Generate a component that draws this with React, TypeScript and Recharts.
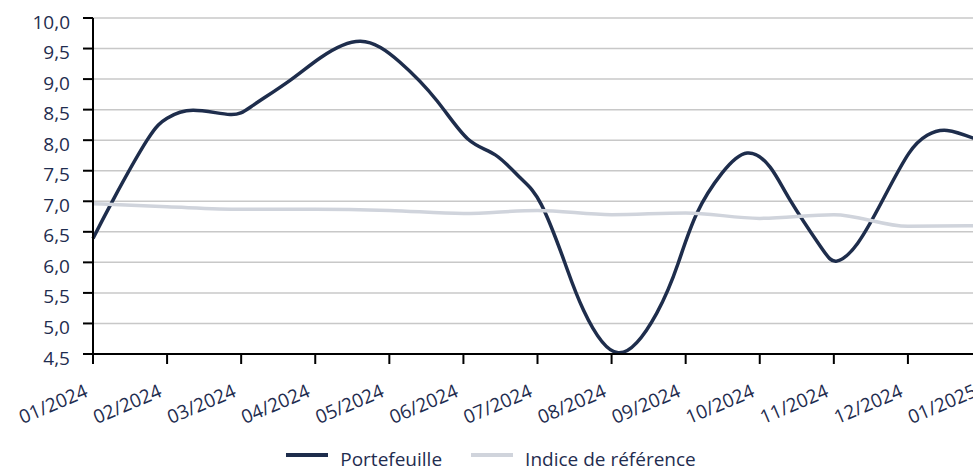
import React from 'react';
import { LineChart, Line, XAxis, YAxis, CartesianGrid, Legend } from 'recharts';

// x positions are expressed in months since 01/2024
const tickLabels = [
  '01/2024', '02/2024', '03/2024', '04/2024', '05/2024', '06/2024', '07/2024',
  '08/2024', '09/2024', '10/2024', '11/2024', '12/2024', '01/2025',
];
const yTicks = [4.5, 5, 5.5, 6, 6.5, 7, 7.5, 8, 8.5, 9, 9.5, 10];

const portfolioMonths = [
  0, 0.27, 0.73, 1.0, 1.35, 1.85, 2.16, 2.66, 3.07, 3.61, 4.14, 4.64, 5.06,
  5.43, 5.77, 6.05, 6.37, 6.62, 7.09, 7.61, 7.9, 8.15, 8.49, 8.83, 9.14,
  9.41, 9.82, 10.04, 10.32, 10.66, 11.01, 11.26, 11.53, 11.89, 12,
];
const portfolioValues = [
  6.39, 7.02, 8.0, 8.36, 8.49, 8.42, 8.57, 8.98, 9.35, 9.62, 9.28, 8.65, 8.02,
  7.76, 7.38, 6.95, 5.99, 5.22, 4.52, 5.17, 5.99, 6.8, 7.46, 7.79, 7.56,
  7.02, 6.26, 6.02, 6.31, 7.02, 7.78, 8.08, 8.16, 8.03, 7.98,
];
const indexValues = [6.96, 6.91, 6.87, 6.87, 6.85, 6.8, 6.85, 6.78, 6.81, 6.72, 6.78, 6.59, 6.6];

const portfolioData = portfolioMonths.map((m, i) => ({ m, v: portfolioValues[i] }));
const indexData = indexValues.map((v, i) => ({ m: i, v }));

const NAVY = '#1e2d4c';
const GREY = '#d0d4dc';
const TEXT = '#1f2d4f';
const FONT = '"Open Sans", sans-serif';

const YTick = ({ x, y, payload }: any) => (
  <text x={x} y={y + 10.5} textAnchor="end" fill={TEXT} fontSize={19} fontFamily={FONT}>
    {payload.value.toFixed(1).replace('.', ',')}
  </text>
);

const XTick = ({ x, y, payload }: any) => {
  const tx = x - 4;
  const ty = y + 32;
  return (
    <text
      x={tx}
      y={ty}
      textAnchor="end"
      fill={TEXT}
      fontSize={19}
      fontFamily={FONT}
      transform={`rotate(-23, ${tx}, ${ty})`}
    >
      {tickLabels[payload.value]}
    </text>
  );
};

const LegendContent = () => (
  <div
    style={{
      display: 'flex',
      justifyContent: 'center',
      fontFamily: FONT,
      fontSize: 19,
      color: TEXT,
    }}
  >
    {[
      { name: 'Portefeuille', color: NAVY },
      { name: 'Indice de référence', color: GREY },
    ].map((item, i) => (
      <div key={item.name} style={{ display: 'flex', alignItems: 'flex-start', marginLeft: i ? 29 : 0 }}>
        <span style={{ width: 42, height: 4, background: item.color, marginTop: 7, marginRight: 12 }} />
        <span>{item.name}</span>
      </div>
    ))}
  </div>
);

export default function App() {
  return (
    <div style={{ width: 973, height: 472, overflow: 'hidden', position: 'relative' }}>
      <style>{'body{margin:0}'}</style>
      <LineChart width={1000} height={472} margin={{ top: 18, right: 18, left: 0, bottom: 0 }}>
        <CartesianGrid vertical={false} stroke="#c8c8c8" strokeWidth={1.5} />
        <XAxis
          dataKey="m"
          type="number"
          domain={[0, 12]}
          ticks={tickLabels.map((_, i) => i)}
          interval={0}
          height={92}
          axisLine={{ stroke: '#000', strokeWidth: 2 }}
          tickLine={{ stroke: '#000', strokeWidth: 2 }}
          tickSize={10}
          tickMargin={0}
          tick={<XTick />}
        />
        <YAxis
          domain={[4.5, 10]}
          ticks={yTicks}
          interval={0}
          width={93}
          axisLine={{ stroke: '#000', strokeWidth: 2 }}
          tickLine={{ stroke: '#000', strokeWidth: 2 }}
          tickSize={10}
          tickMargin={13}
          tick={<YTick />}
        />
        <Legend
          verticalAlign="bottom"
          content={<LegendContent />}
          wrapperStyle={{ top: 446, bottom: 'auto' }}
        />
        <Line
          data={portfolioData}
          dataKey="v"
          name="Portefeuille"
          type="natural"
          stroke={NAVY}
          strokeWidth={3.5}
          dot={false}
          isAnimationActive={false}
        />
        <Line
          data={indexData}
          dataKey="v"
          name="Indice de référence"
          type="monotone"
          stroke={GREY}
          strokeWidth={3.5}
          dot={false}
          isAnimationActive={false}
        />
      </LineChart>
    </div>
  );
}
